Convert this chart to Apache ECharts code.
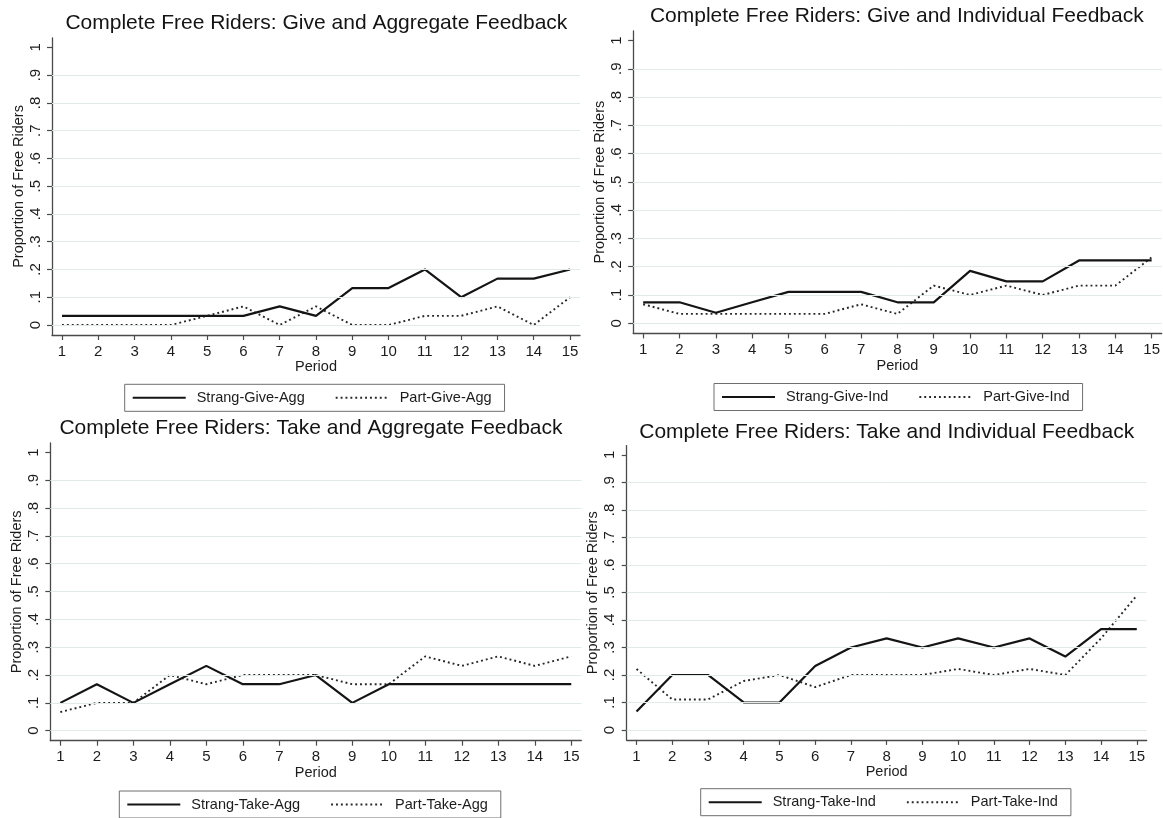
<!DOCTYPE html>
<html>
<head>
<meta charset="utf-8">
<script src="https://cdn.jsdelivr.net/npm/echarts@6.0.0/dist/echarts.min.js"></script>
<style>
  html, body { margin: 0; padding: 0; background: #ffffff; }
  #chart { width: 1163px; height: 818px; }
</style>
</head>
<body>
<div id="chart"></div>
<script>
// ---- data -------------------------------------------------------------
const periods = [1, 2, 3, 4, 5, 6, 7, 8, 9, 10, 11, 12, 13, 14, 15];
const yTicks = [0, 0.1, 0.2, 0.3, 0.4, 0.5, 0.6, 0.7, 0.8, 0.9, 1];
const yTickLabels = ['0', '.1', '.2', '.3', '.4', '.5', '.6', '.7', '.8', '.9', '1'];
const gridLevels = [0, 0.1, 0.2, 0.3, 0.4, 0.5, 0.6, 0.7, 0.8, 0.9];

const panelTitles = [
  'Complete Free Riders: Give and Aggregate Feedback',
  'Complete Free Riders: Give and Individual Feedback',
  'Complete Free Riders: Take and Aggregate Feedback',
  'Complete Free Riders: Take and Individual Feedback'
];
const strangNames = ['Strang-Give-Agg', 'Strang-Give-Ind', 'Strang-Take-Agg', 'Strang-Take-Ind'];
const partNames = ['Part-Give-Agg', 'Part-Give-Ind', 'Part-Take-Agg', 'Part-Take-Ind'];

const strangGiveAgg = [0.033, 0.033, 0.033, 0.033, 0.033, 0.033, 0.067, 0.033, 0.133, 0.133, 0.2, 0.1, 0.167, 0.167, 0.2];
const partGiveAgg   = [0, 0, 0, 0, 0.033, 0.067, 0, 0.067, 0, 0, 0.033, 0.033, 0.067, 0, 0.1];

const strangGiveInd = [0.074, 0.074, 0.037, 0.074, 0.111, 0.111, 0.111, 0.074, 0.074, 0.185, 0.148, 0.148, 0.222, 0.222, 0.222];
const partGiveInd   = [0.067, 0.033, 0.033, 0.033, 0.033, 0.033, 0.067, 0.033, 0.133, 0.1, 0.133, 0.1, 0.133, 0.133, 0.233];

const strangTakeAgg = [0.1, 0.167, 0.1, 0.167, 0.233, 0.167, 0.167, 0.2, 0.1, 0.167, 0.167, 0.167, 0.167, 0.167, 0.167];
const partTakeAgg   = [0.067, 0.1, 0.1, 0.2, 0.167, 0.2, 0.2, 0.2, 0.167, 0.167, 0.267, 0.233, 0.267, 0.233, 0.267];

const strangTakeInd = [0.067, 0.2, 0.2, 0.1, 0.1, 0.233, 0.3, 0.333, 0.3, 0.333, 0.3, 0.333, 0.267, 0.367, 0.367];
const partTakeInd   = [0.222, 0.111, 0.111, 0.178, 0.2, 0.156, 0.2, 0.2, 0.2, 0.222, 0.2, 0.222, 0.2, 0.333, 0.489];

const strangSeries = [strangGiveAgg, strangGiveInd, strangTakeAgg, strangTakeInd];
const partSeries = [partGiveAgg, partGiveInd, partTakeAgg, partTakeInd];

// ---- layout of the four panels (pixels) -------------------------------
const panelLayout = [
  { grid: { left: 52.0, top: 37.9, width: 528.0, height: 297.1 }, title: { x: 316.4, y: 23.3 }, legend: { left: 124.7, top: 384.3 } },
  { grid: { left: 633.2, top: 30.9, width: 536.9, height: 302.5 }, title: { x: 896.8, y: 16.3 }, legend: { left: 714.0, top: 383.5 } },
  { grid: { left: 50.3, top: 443.0, width: 531.0, height: 297.7 }, title: { x: 311.0, y: 428.3 }, legend: { left: 119.3, top: 791.0 } },
  { grid: { left: 626.7, top: 445.6, width: 519.9, height: 294.3 }, title: { x: 886.7, y: 432.0 }, legend: { left: 700.7, top: 788.7 } }
];

const FONT = '"Liberation Sans", Arial, Helvetica, sans-serif';
const TEXT = '#1c1c1c';
const AXIS = '#4a4a4a';
const X_MIN = 0.725, X_MAX = 15.275;
const Y_MIN = -0.036, Y_MAX = 1.034;

const SOLID = { color: '#141414', width: 2.2, type: 'solid' };
const DOTTED = { color: '#262626', width: 1.9, type: [1.9, 3], cap: 'butt' };

function yLabel(v) {
  const k = yTicks.findIndex(t => Math.abs(t - v) < 1e-6);
  return k >= 0 ? yTickLabels[k] : '';
}

const grids = [], xAxes = [], yAxes = [], series = [], legends = [], graphics = [];

panelLayout.forEach((p, i) => {
  grids.push(Object.assign({ containLabel: false }, p.grid));

  xAxes.push({
    type: 'value', gridIndex: i, min: X_MIN, max: X_MAX,
    axisLine: { show: true, onZero: false, lineStyle: { color: AXIS, width: 1.3 } },
    axisTick: { show: true, length: 5, customValues: periods, lineStyle: { color: AXIS, width: 1.2 } },
    axisLabel: { customValues: periods, fontFamily: FONT, fontSize: 15, color: TEXT, margin: 9,
                 formatter: v => String(Math.round(v)) },
    splitLine: { show: false },
    name: 'Period', nameLocation: 'middle', nameGap: 24,
    nameTextStyle: { fontFamily: FONT, fontSize: 14.5, color: TEXT }
  });

  yAxes.push({
    type: 'value', gridIndex: i, min: Y_MIN, max: Y_MAX,
    axisLine: { show: true, onZero: false, lineStyle: { color: AXIS, width: 1.3 } },
    axisTick: { show: true, length: 5, customValues: yTicks, lineStyle: { color: AXIS, width: 1.2 } },
    axisLabel: { customValues: yTicks, rotate: 90, fontFamily: FONT, fontSize: 15, color: TEXT, margin: 9,
                 formatter: yLabel },
    splitLine: { show: false },
    name: 'Proportion of Free Riders', nameLocation: 'middle', nameGap: 26,
    nameTextStyle: { fontFamily: FONT, fontSize: 14.5, color: TEXT }
  });

  // light horizontal grid lines at each labelled level
  series.push({
    type: 'line', xAxisIndex: i, yAxisIndex: i, data: [], z: 1, silent: true, animation: false,
    markLine: {
      silent: true, animation: false, symbol: ['none', 'none'],
      label: { show: false },
      lineStyle: { color: '#e1eaea', width: 1, type: 'solid' },
      emphasis: { disabled: true },
      data: gridLevels.map(v => ({ yAxis: v }))
    }
  });

  series.push({
    type: 'line', name: strangNames[i], xAxisIndex: i, yAxisIndex: i, z: 3,
    data: periods.map((x, k) => [x, strangSeries[i][k]]),
    symbol: 'none', showSymbol: false, silent: true, animation: false,
    lineStyle: SOLID,
    itemStyle: { color: SOLID.color }
  });

  series.push({
    type: 'line', name: partNames[i], xAxisIndex: i, yAxisIndex: i, z: 2,
    data: periods.map((x, k) => [x, partSeries[i][k]]),
    symbol: 'none', showSymbol: false, silent: true, animation: false,
    lineStyle: DOTTED,
    itemStyle: { color: DOTTED.color }
  });

  legends.push({
    data: [strangNames[i], partNames[i]],
    left: p.legend.left, top: p.legend.top, orient: 'horizontal',
    itemWidth: 53, itemHeight: 14, itemGap: 30,
    borderColor: '#6e6e6e', borderWidth: 1, borderRadius: 0,
    padding: [6, 13, 6, 7],
    selectedMode: false,
    itemStyle: { opacity: 0 },
    textStyle: { fontFamily: FONT, fontSize: 14.5, color: TEXT, lineHeight: 15, padding: [0, 0, 0, 6] }
  });

  graphics.push({
    type: 'text', x: p.title.x, y: p.title.y, silent: true,
    style: { text: panelTitles[i], fontFamily: FONT, fontSize: 21, fill: '#141414',
             align: 'center', verticalAlign: 'middle' }
  });
});

const chart = echarts.init(document.getElementById('chart'), null, { renderer: 'canvas' });
chart.setOption({
  backgroundColor: '#ffffff',
  animation: false,
  grid: grids,
  xAxis: xAxes,
  yAxis: yAxes,
  legend: legends,
  series: series,
  graphic: graphics
});
</script>
</body>
</html>
